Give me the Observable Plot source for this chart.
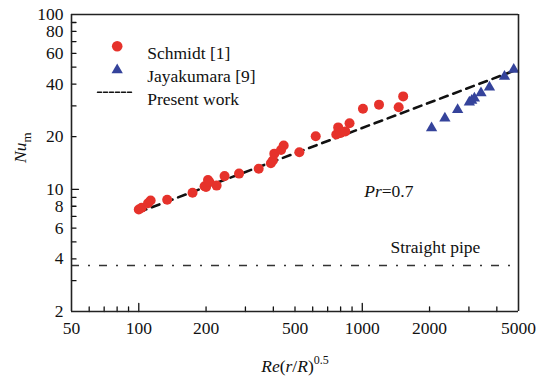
<!DOCTYPE html>
<html>
<head>
<meta charset="utf-8">
<script src="https://cdn.jsdelivr.net/npm/d3@7"></script>
<script src="https://cdn.jsdelivr.net/npm/@observablehq/plot@0.6"></script>
<style>
  html, body { margin: 0; padding: 0; background: #fff; }
  #chart { width: 537px; height: 379px; }
  svg { display: block; }
  #chart svg, #chart svg text { font-family: "Liberation Serif", "Times New Roman", serif; }
</style>
</head>
<body>
<div id="chart"></div>
<script>
// Schmidt [1] measurements: Re(r/R)^0.5 and mean Nusselt number
const schmidtRe = [100, 103, 110, 113, 134, 174, 197, 200, 204, 207, 223, 242, 281, 344, 390, 398, 404, 433, 445, 523, 619, 765, 780, 800, 840, 877, 1007, 1188, 1455, 1524];
const schmidtNu = [7.67, 7.84, 8.33, 8.63, 8.71, 9.55, 10.4, 10.3, 11.3, 11.0, 10.5, 11.9, 12.3, 13.1, 14.1, 14.6, 16.0, 16.8, 17.8, 16.3, 20.1, 20.6, 22.6, 21.0, 21.4, 23.9, 28.9, 30.5, 29.5, 34.0];

// Jayakumara [9] measurements
const jayaRe = [2042, 2342, 2671, 3013, 3087, 3174, 3397, 3707, 4327, 4761];
const jayaNu = [22.4, 25.5, 28.5, 31.5, 32.2, 33.2, 35.6, 38.4, 44.2, 48.5];

// Present work correlation (end points of the straight log-log line)
const presentRe = [100, 4800];
const presentNu = [7.4, 47.8];

// Fully developed straight pipe value
const straightPipeNu = 3.66;

// Axis domains and ticks
const xDomain = [50, 5000];
const yDomain = [2, 100];
const xTickLabels = [50, 100, 200, 500, 1000, 2000, 5000];
const xMinorTicks = [60, 70, 80, 90, 200, 300, 400, 500, 600, 700, 800, 900, 2000, 3000, 4000];
const xMajorTicks = [100, 1000];
const yTickLabels = [2, 4, 6, 8, 10, 20, 40, 60, 80, 100];
const yMinorTicks = [3, 4, 5, 6, 7, 8, 9, 20, 30, 40, 50, 60, 70, 80, 90];
const yMajorTicks = [10];

// Annotations
const prNote = {re: 1020, nu: 9.72, text: "Pr=0.7"};
const pipeNote = {re: 1336, nu: 4.64, text: "Straight pipe"};

const schmidt = schmidtRe.map((re, i) => ({re, nu: schmidtNu[i]}));
const jaya = jayaRe.map((re, i) => ({re, nu: jayaNu[i]}));
const present = presentRe.map((re, i) => ({re, nu: presentNu[i]}));

const RED = "#e6322b";
const BLUE = "#35439b";
const INK = "#111";
const FONT = "Liberation Serif";
const FS = 17.5;

// plain line segment used for ticks and the legend swatch
const lineShape = {draw(ctx, l) { ctx.moveTo(0, 0); ctx.lineTo(0, -l); }};
const tickX = (values, length) => Plot.vector(values, {x: d => d, frameAnchor: "bottom", length, rotate: 0, anchor: "start", shape: lineShape, stroke: INK, strokeWidth: 1.3});
const tickY = (values, length) => Plot.vector(values, {y: d => d, frameAnchor: "left", length, rotate: 90, anchor: "start", shape: lineShape, stroke: INK, strokeWidth: 1.3});
const txt = {fontSize: FS, fontFamily: FONT, fill: INK};
const legendText = (label, dy) => Plot.text([label], {frameAnchor: "top-left", dx: 75.7, dy, text: d => d, textAnchor: "start", ...txt});

const svg = Plot.plot({
  width: 537,
  height: 379,
  marginLeft: 71,
  marginRight: 19,
  marginTop: 14,
  marginBottom: 68,
  x: {type: "log", domain: xDomain, axis: null},
  y: {type: "log", domain: yDomain, axis: null},
  style: {fontFamily: FONT, fontSize: FS + "px", background: "#fff", color: INK},
  marks: [
    // straight pipe reference line
    Plot.ruleY([straightPipeNu], {stroke: "#333", strokeWidth: 1.5, strokeDasharray: "8,9,2,9"}),
    // present work correlation
    Plot.line(present, {x: "re", y: "nu", stroke: INK, strokeWidth: 2.6, strokeDasharray: "8,6"}),
    // data
    Plot.dot(schmidt, {x: "re", y: "nu", r: 5, fill: RED, stroke: "none"}),
    Plot.dot(jaya, {x: "re", y: "nu", r: 4.2, symbol: "triangle", fill: BLUE, stroke: "none"}),
    // inward ticks
    tickX(xMinorTicks, 4.5),
    tickX(xMajorTicks, 8),
    tickY(yMinorTicks, 4.5),
    tickY(yMajorTicks, 7),
    // tick labels
    Plot.text(xTickLabels, {x: d => d, frameAnchor: "bottom", dy: 22, text: d => String(d), ...txt}),
    Plot.text(yTickLabels, {y: d => d, frameAnchor: "left", dx: -8, text: d => String(d), textAnchor: "end", ...txt}),
    // box
    Plot.ruleX(xDomain, {stroke: "#222", strokeWidth: 1.6}),
    Plot.ruleY(yDomain, {stroke: "#222", strokeWidth: 1.6}),
    // annotations
    Plot.text([prNote], {x: "re", y: "nu", text: "text", textAnchor: "start", ...txt}),
    Plot.text([pipeNote], {x: "re", y: "nu", text: "text", textAnchor: "start", ...txt}),
    // legend
    Plot.dot([0], {frameAnchor: "top-left", dx: 45.7, dy: 31.7, r: 5.3, fill: RED, stroke: "none"}),
    Plot.dot([0], {frameAnchor: "top-left", dx: 45.7, dy: 55.5, r: 4.2, symbol: "triangle", fill: BLUE, stroke: "none"}),
    Plot.vector([0], {frameAnchor: "top-left", dx: 26, dy: 77.7, length: 36, rotate: 90, anchor: "start", shape: lineShape, stroke: INK, strokeWidth: 1.5, strokeDasharray: "4,2"}),
    legendText("Schmidt [1]", 31.7),
    legendText("Jayakumara [9]", 55.5),
    legendText("Present work", 77.7),
    // axis titles
    Plot.text(["XLABEL"], {frameAnchor: "bottom", dy: 60, ...txt}),
    Plot.text(["YLABEL"], {frameAnchor: "left", dx: -51, rotate: -90, ...txt})
  ]
});

// rich-text titles (italics, sub/superscripts)
d3.select(svg).selectAll("text").each(function () {
  const t = d3.select(this);
  const s = this.textContent;
  if (s === "XLABEL") {
    t.text(null);
    t.append("tspan").attr("font-style", "italic").text("Re");
    t.append("tspan").text("(");
    t.append("tspan").attr("font-style", "italic").text("r");
    t.append("tspan").text("/");
    t.append("tspan").attr("font-style", "italic").text("R");
    t.append("tspan").text(")");
    t.append("tspan").attr("font-size", 12).attr("dy", "-0.6em").text("0.5");
  } else if (s === "YLABEL") {
    t.text(null);
    t.append("tspan").attr("font-style", "italic").text("Nu");
    t.append("tspan").attr("font-size", 13).attr("dy", "0.35em").text("m");
  } else if (s === "Pr=0.7") {
    t.text(null);
    t.append("tspan").attr("font-style", "italic").text("Pr");
    t.append("tspan").text("=0.7");
  }
});

document.getElementById("chart").appendChild(svg);
</script>
</body>
</html>
